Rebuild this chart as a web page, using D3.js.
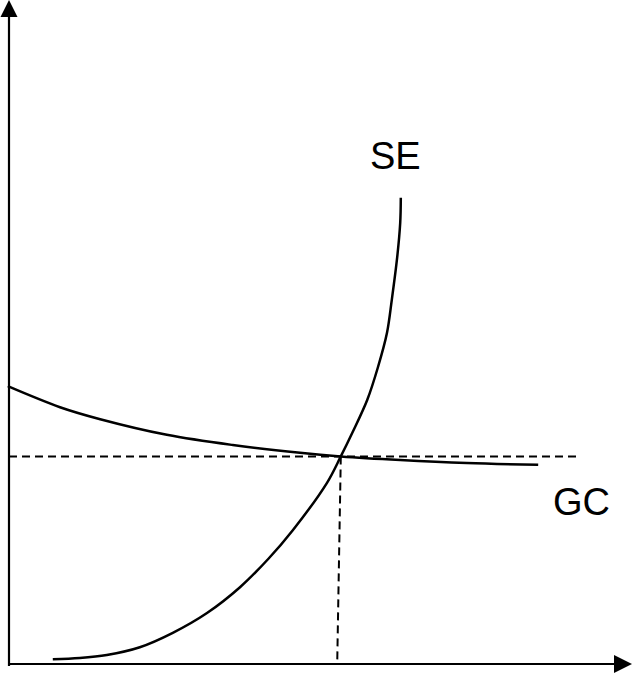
<!DOCTYPE html>
<html>
<head>
<meta charset="utf-8">
<script src="https://cdn.jsdelivr.net/npm/d3@7"></script>
<style>
  html, body { margin: 0; padding: 0; background: #fff; overflow: hidden; }
  text { font-family: "Liberation Sans", Arial, sans-serif; fill: #000; }
</style>
</head>
<body>
<div id="chart"></div>
<script>
// curve data (x, y in chart units)
var seX = [7.3, 11.8, 16.3, 21.8, 27.3, 33, 38.5, 43.2, 47.3, 53, 55.3, 57.2, 59.7, 61.5, 63, 63.8, 64.7, 65.2, 65.3];
var seY = [0.8, 1, 1.5, 2.8, 5.2, 8.5, 12.8, 17.5, 22.3, 30.2, 34.6, 38.5, 44, 49.5, 55.2, 60.7, 67.8, 73.5, 77.7];

var gcX = [-0.2, 8.5, 15.2, 26.3, 37.3, 48.5, 55.3, 65.2, 76.3, 88.2];
var gcY = [46.3, 42.8, 40.8, 38.2, 36.5, 35.2, 34.6, 34, 33.5, 33.2];

// equilibrium guide lines
var guideHX = [0, 94.8];
var guideHY = [34.6, 34.6];
var guideVX = [55.3, 54.7];
var guideVY = [34.6, 0];

var labels = ["SE", "GC"];

// Width and height
var w = 632;
var h = 674;

var x = d3.scaleLinear().domain([0, 100]).range([9, 609]);
var y = d3.scaleLinear().domain([0, 100]).range([664, 64]);

var svg = d3.select("#chart")
			.append("svg")
			.attr("width", w)
			.attr("height", h);

function pts(xs, ys) {
	return xs.map(function(v, i) { return [v, ys[i]]; });
}

var line = d3.line()
			.x(function(d) { return x(d[0]); })
			.y(function(d) { return y(d[1]); });

var smooth = d3.line()
			.curve(d3.curveCatmullRom.alpha(0.5))
			.x(function(d) { return x(d[0]); })
			.y(function(d) { return y(d[1]); });

// axes with arrow heads
svg.append("line")
	.attr("x1", x(0)).attr("y1", y(0) + 2)
	.attr("x2", x(0)).attr("y2", 14)
	.style("stroke", "#000").style("stroke-width", 2.2);

svg.append("path")
	.attr("d", "M" + x(0) + ",0 L" + (x(0) - 8.5) + ",17 L" + (x(0) + 8.5) + ",17 Z")
	.style("fill", "#000");

svg.append("line")
	.attr("x1", x(0) - 1).attr("y1", y(0))
	.attr("x2", 616).attr("y2", y(0))
	.style("stroke", "#000").style("stroke-width", 2.2);

svg.append("path")
	.attr("d", "M632," + y(0) + " L614," + (y(0) - 9) + " L614," + (y(0) + 9) + " Z")
	.style("fill", "#000");

// dashed guides
svg.append("path")
	.attr("d", line(pts(guideHX, guideHY)))
	.style("fill", "none")
	.style("stroke", "#000")
	.style("stroke-width", 2)
	.style("stroke-dasharray", "8,5");

svg.append("path")
	.attr("d", line(pts(guideVX, guideVY)))
	.style("fill", "none")
	.style("stroke", "#000")
	.style("stroke-width", 2)
	.style("stroke-dasharray", "8,5");

// curves
svg.append("path")
	.attr("d", smooth(pts(gcX, gcY)))
	.style("fill", "none")
	.style("stroke", "#000")
	.style("stroke-width", 2.5);

svg.append("path")
	.attr("d", smooth(pts(seX, seY)))
	.style("fill", "none")
	.style("stroke", "#000")
	.style("stroke-width", 2.5);

// labels
svg.append("text")
	.attr("x", 370).attr("y", 169)
	.style("font-size", "38px")
	.text(labels[0]);

svg.append("text")
	.attr("x", 553).attr("y", 515)
	.style("font-size", "38px")
	.text(labels[1]);

// origin mark, cut off at the bottom edge as in the source
svg.append("text")
	.attr("x", 14).attr("y", 684)
	.style("font-size", "15px")
	.text("o");
</script>
</body>
</html>
